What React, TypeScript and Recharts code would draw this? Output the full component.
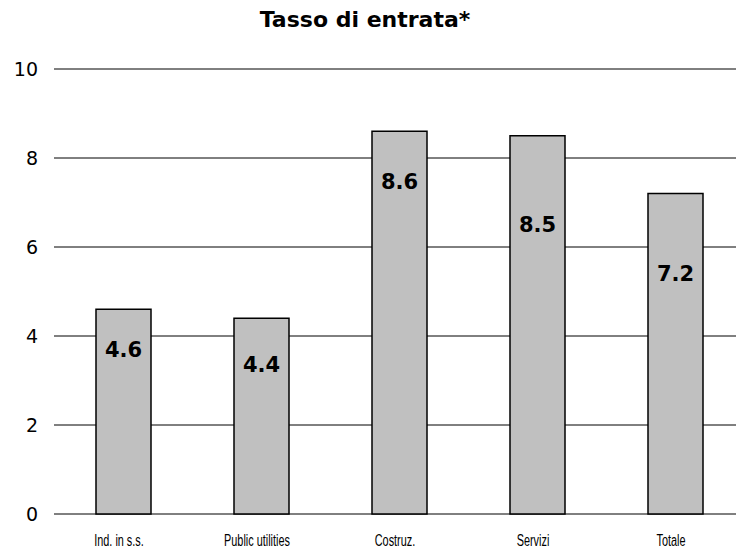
import React from "react";
import { BarChart, Bar, XAxis, YAxis, CartesianGrid, LabelList } from "recharts";

const categories = ["Ind. in s.s.", "Public utilities", "Costruz.", "Servizi", "Totale"];
const values = [4.6, 4.4, 8.6, 8.5, 7.2];
const yTicks = [0, 2, 4, 6, 8, 10];
const title = "Tasso di entrata*";

const data = categories.map((name, i) => ({ name, value: values[i] }));

// vertical placement of each value label below its bar top (px)
const labelDrop = [40, 46, 50, 89, 80];

const ValueLabel = (props: any) => {
  const { x, y, width, value, index } = props;
  return (
    <text
      x={x + width / 2}
      y={y + labelDrop[index]}
      dy="0.36em"
      textAnchor="middle"
      fontFamily="'DejaVu Sans', Verdana, sans-serif"
      fontWeight="bold"
      fontSize={21}
      fill="#000"
    >
      {value.toFixed(1)}
    </text>
  );
};

const XTick = (props: any) => {
  const { x, y, payload } = props;
  return (
    <g transform={`translate(${x - 4},${y + 32}) scale(0.68,1)`}>
      <text
        x={0}
        y={0}
        textAnchor="middle"
        fontFamily="'Liberation Sans Narrow', 'Arial Narrow', 'Liberation Sans', sans-serif"
        fontSize={16}
        fill="#000"
      >
        {payload.value}
      </text>
    </g>
  );
};

export default function App() {
  return (
    <div
      style={{
        position: "absolute",
        left: 0,
        top: 0,
        width: 736,
        height: 550,
        overflow: "hidden",
        background: "#fff",
      }}
    >
      <div
        style={{
          position: "absolute",
          left: 0,
          top: 7,
          width: 730,
          textAlign: "center",
          fontFamily: "'DejaVu Sans', Verdana, sans-serif",
          fontWeight: "bold",
          fontSize: 22,
          color: "#000",
        }}
      >
        {title}
      </div>
      <BarChart
        width={760}
        height={550}
        data={data}
        margin={{ top: 69, right: 16, bottom: 0, left: 0 }}
        barSize={55}
      >
        <CartesianGrid vertical={false} stroke="#000" strokeWidth={1} />
        <XAxis
          dataKey="name"
          axisLine={false}
          tickLine={false}
          tickSize={0}
          tickMargin={0}
          height={36}
          interval={0}
          tick={<XTick />}
        />
        <YAxis
          domain={[0, 10]}
          ticks={yTicks}
          axisLine={false}
          tickLine={false}
          width={54}
          tickSize={0}
          tickMargin={16}
          tick={{ fill: "#000", fontSize: 19, fontFamily: "'DejaVu Sans', Verdana, sans-serif" }}
        />
        <Bar dataKey="value" fill="#C0C0C0" stroke="#000" strokeWidth={1.5} isAnimationActive={false}>
          <LabelList dataKey="value" content={<ValueLabel />} />
        </Bar>
      </BarChart>
    </div>
  );
}
